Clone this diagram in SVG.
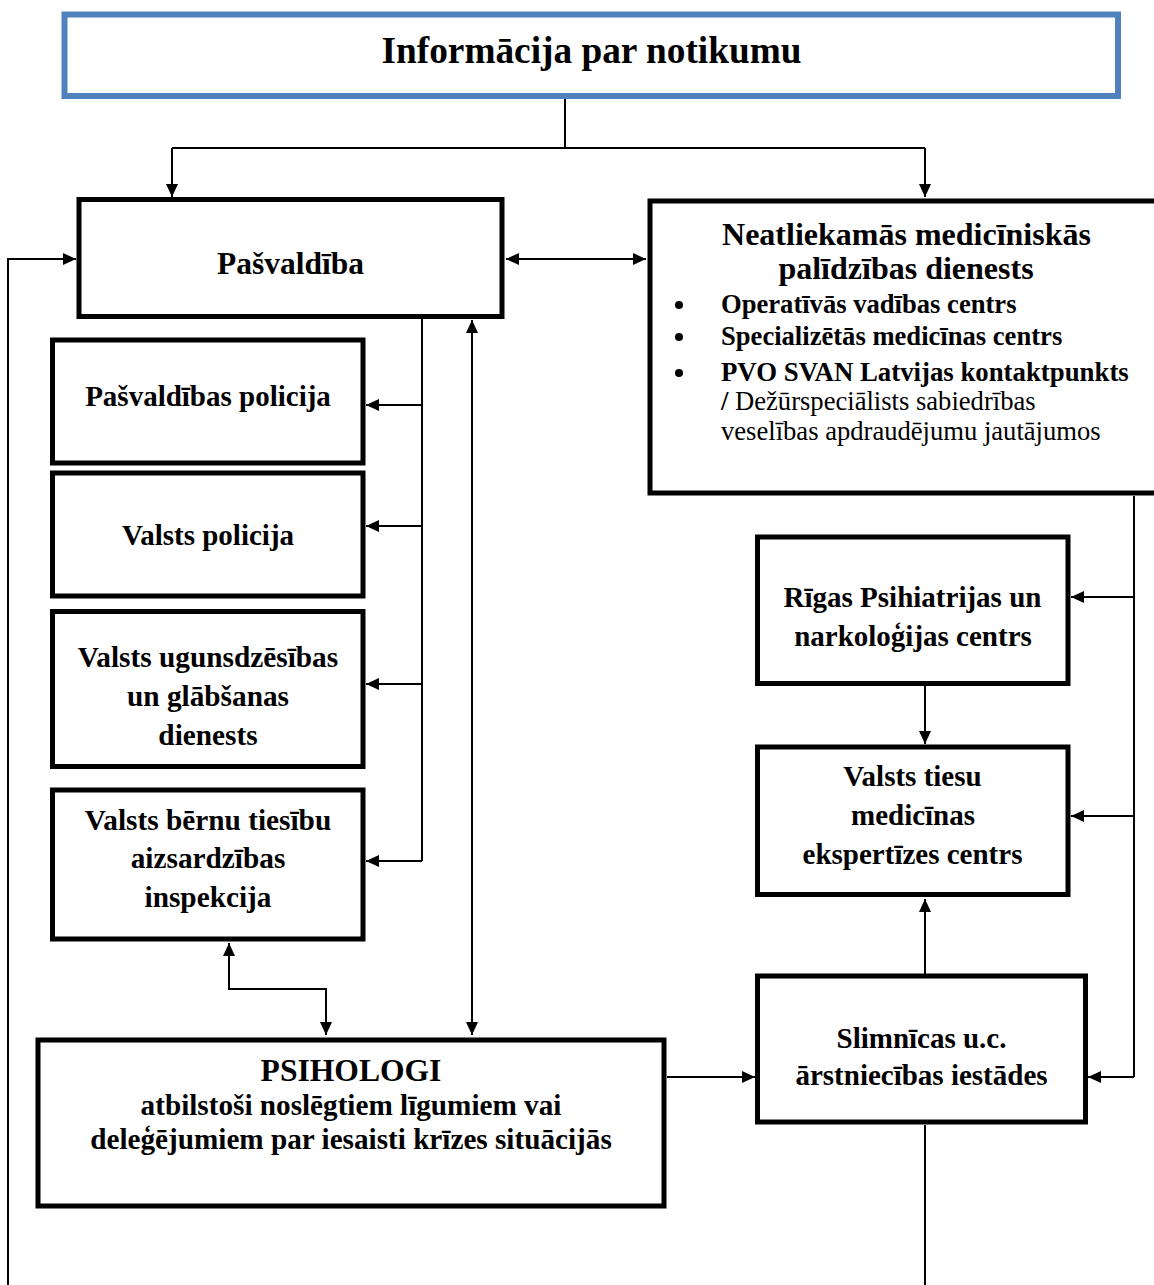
<svg xmlns="http://www.w3.org/2000/svg" width="1154" height="1285" viewBox="0 0 1154 1285">
<style>
.box{fill:#fff;stroke:#000;stroke-width:5}
.t{font-family:"Liberation Serif","Times New Roman",serif;font-weight:bold;fill:#000;text-anchor:middle}
.r{font-family:"Liberation Serif","Times New Roman",serif;fill:#000}
.b{font-family:"Liberation Serif","Times New Roman",serif;font-weight:bold;fill:#000}
.c{fill:none;stroke:#000;stroke-width:2}
</style>
<defs>
<marker id="ah" markerUnits="userSpaceOnUse" markerWidth="14" markerHeight="12" refX="13" refY="6" orient="auto-start-reverse">
<path d="M0,0 L13,6 L0,12 z" fill="#000"/>
</marker>
</defs>
<rect width="1154" height="1285" fill="#fff"/>

<g id="connectors">
<path class="c" d="M565,99 V148 M172,148 H925"/>
<path class="c" d="M172,148 V197" marker-end="url(#ah)"/>
<path class="c" d="M925,148 V197" marker-end="url(#ah)"/>
<path class="c" d="M506,259 H646" marker-start="url(#ah)" marker-end="url(#ah)"/>
<path class="c" d="M8,1285 V259 H76" marker-end="url(#ah)"/>
<path class="c" d="M422,319 V861"/>
<path class="c" d="M422,405 H366" marker-end="url(#ah)"/>
<path class="c" d="M422,526 H366" marker-end="url(#ah)"/>
<path class="c" d="M422,684 H366" marker-end="url(#ah)"/>
<path class="c" d="M422,861 H366" marker-end="url(#ah)"/>
<path class="c" d="M472,320 V1035" marker-start="url(#ah)" marker-end="url(#ah)"/>
<path class="c" d="M229,943 V989 H326 V1035" marker-start="url(#ah)" marker-end="url(#ah)"/>
<path class="c" d="M667,1077 H755" marker-end="url(#ah)"/>
<path class="c" d="M1134,496 V1077"/>
<path class="c" d="M1134,597 H1071" marker-end="url(#ah)"/>
<path class="c" d="M1134,816 H1071" marker-end="url(#ah)"/>
<path class="c" d="M1134,1077 H1088" marker-end="url(#ah)"/>
<path class="c" d="M925,686 V744" marker-end="url(#ah)"/>
<path class="c" d="M925,974 V899" marker-end="url(#ah)"/>
<path class="c" d="M925,1125 V1285"/>
</g>

<g id="info">
<rect x="64.5" y="14.5" width="1053.5" height="81.5" fill="#fff" stroke="#4F81BD" stroke-width="6"/>
<text class="t" x="591.5" y="63" font-size="37.3">Informācija par notikumu</text>
</g>

<g id="pasvaldiba">
<rect class="box" x="79" y="199.5" width="423" height="117"/>
<text class="t" x="290.5" y="274" font-size="31.5">Pašvaldība</text>
</g>

<g id="nmpd">
<rect class="box" x="650" y="201" width="520" height="292" stroke-width="6"/>
<text class="t" x="906.5" y="245" font-size="32">Neatliekamās medicīniskās</text>
<text class="t" x="906" y="279" font-size="32">palīdzības dienests</text>
<circle cx="679" cy="305" r="4"/>
<circle cx="679" cy="337" r="4"/>
<circle cx="679" cy="373" r="4"/>
<text class="b" x="721" y="313" font-size="26.6">Operatīvās vadības centrs</text>
<text class="b" x="721" y="345" font-size="26.6">Specializētās medicīnas centrs</text>
<text class="b" x="721" y="381" font-size="26.8">PVO SVAN Latvijas kontaktpunkts</text>
<text class="r" x="721" y="410" font-size="26.6"><tspan font-weight="bold">/</tspan> Dežūrspeciālists sabiedrības</text>
<text class="r" x="721" y="440" font-size="26.6">veselības apdraudējumu jautājumos</text>
</g>

<g id="pasv-policija">
<rect class="box" x="52.5" y="340" width="310.5" height="123"/>
<text class="t" x="208" y="406" font-size="29">Pašvaldības policija</text>
</g>

<g id="valsts-policija">
<rect class="box" x="52.5" y="473" width="310.5" height="123"/>
<text class="t" x="208" y="545" font-size="29">Valsts policija</text>
</g>

<g id="vugd">
<rect class="box" x="52.5" y="611.5" width="310.5" height="155"/>
<text class="t" x="208" y="667" font-size="29.3">Valsts ugunsdzēsības</text>
<text class="t" x="208" y="706" font-size="29.3">un glābšanas</text>
<text class="t" x="208" y="745" font-size="29.3">dienests</text>
</g>

<g id="vbtai">
<rect class="box" x="52.5" y="790" width="310.5" height="149"/>
<text class="t" x="208" y="830" font-size="29.3">Valsts bērnu tiesību</text>
<text class="t" x="208" y="868" font-size="29.3">aizsardzības</text>
<text class="t" x="208" y="907" font-size="29.3">inspekcija</text>
</g>

<g id="psihologi">
<rect class="box" x="38" y="1040" width="626" height="166" stroke-width="6"/>
<text class="t" x="351" y="1081" font-size="31.6">PSIHOLOGI</text>
<text class="t" x="351" y="1115" font-size="29.2">atbilstoši noslēgtiem līgumiem vai</text>
<text class="t" x="351" y="1149" font-size="29.2">deleģējumiem par iesaisti krīzes situācijās</text>
</g>

<g id="rpnc">
<rect class="box" x="757.5" y="537" width="310.5" height="146.5"/>
<text class="t" x="912.5" y="607" font-size="29">Rīgas Psihiatrijas un</text>
<text class="t" x="913" y="646" font-size="29">narkoloģijas centrs</text>
</g>

<g id="vtmec">
<rect class="box" x="757.5" y="747" width="310.5" height="147.5"/>
<text class="t" x="912.5" y="786" font-size="29">Valsts tiesu</text>
<text class="t" x="913" y="825" font-size="29">medicīnas</text>
<text class="t" x="912.5" y="864" font-size="29">ekspertīzes centrs</text>
</g>

<g id="slimnicas">
<rect class="box" x="757.5" y="976" width="328" height="146"/>
<text class="t" x="921.5" y="1048" font-size="29">Slimnīcas u.c.</text>
<text class="t" x="921.5" y="1085" font-size="29">ārstniecības iestādes</text>
</g>
</svg>
